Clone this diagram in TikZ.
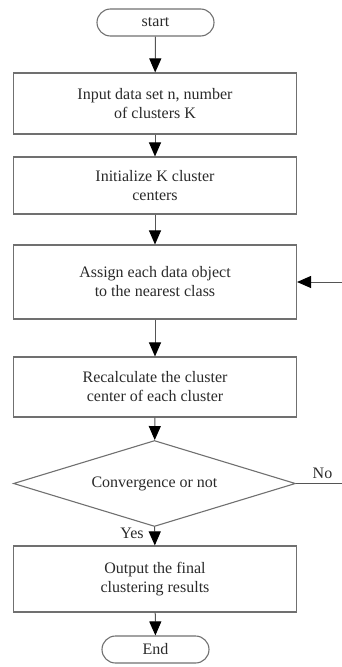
\documentclass[tikz,border=0pt]{standalone}
\usepackage{fontspec}
\setmainfont{Liberation Serif}
\usetikzlibrary{arrows.meta,shapes.geometric}
\definecolor{boxline}{HTML}{707070}
\definecolor{txt}{HTML}{2a2a2a}
\definecolor{conn}{HTML}{555555}
\tikzset{
  procbox/.style={draw=boxline, line width=1.1pt, rectangle, minimum width=283pt, inner sep=0pt, align=center, text=txt, font=\fontsize{16}{19}\selectfont},
  termbox/.style={draw=boxline, line width=1.1pt, rectangle, rounded corners=13.5pt, minimum height=27pt, inner sep=0pt, text=txt, font=\fontsize{16}{19}\selectfont},
  decbox/.style={draw=boxline, line width=1.1pt, diamond, aspect=3.28, minimum width=282pt, minimum height=86pt, inner sep=0pt, text=txt, font=\fontsize{16}{19}\selectfont},
  flow/.style={draw=conn, line width=1pt, -{Triangle[width=12pt,length=14pt,color=black]}},
  lbl/.style={text=txt, font=\fontsize{16}{19}\selectfont, inner sep=0pt}
}
\begin{document}
\begin{tikzpicture}[x=1pt,y=-1pt]
\useasboundingbox (0,0) rectangle (342,667);
\node[termbox, minimum width=117pt] (start) at (155.5,22.5) {start};
\node[procbox, minimum height=61pt] (input) at (155,103.5) {Input data set n, number\\of clusters K};
\node[procbox, minimum height=57pt] (init) at (155,185.5) {Initialize K cluster\\centers};
\node[procbox, minimum height=74pt] (assign) at (155,282) {Assign each data object\\to the nearest class};
\node[procbox, minimum height=60pt] (recalc) at (155,387) {Recalculate the cluster\\center of each cluster};
\node[decbox] (conv) at (154.5,483.5) {Convergence or not};
\node[procbox, minimum height=66pt] (output) at (155,579) {Output the final\\clustering results};
\node[termbox, minimum width=107pt] (end) at (155.5,649.5) {End};
\coordinate (loopin) at (342,282);
\coordinate (noout) at (342,483.5);
\draw[flow] (start) -- (input);
\draw[flow] (input) -- (init);
\draw[flow] (init) -- (assign);
\draw[flow] (assign) -- (recalc);
\draw[flow] (recalc) -- (conv);
\draw[flow] (conv) -- (output);
\draw[flow] (output) -- (end);
\draw[flow] (loopin) -- (assign.east);
\draw[draw=conn, line width=1pt] (conv.east) -- (noout);
\node[lbl] (yes) at (132,533) {Yes};
\node[lbl] (no) at (322.5,473) {No};
\end{tikzpicture}
\end{document}
